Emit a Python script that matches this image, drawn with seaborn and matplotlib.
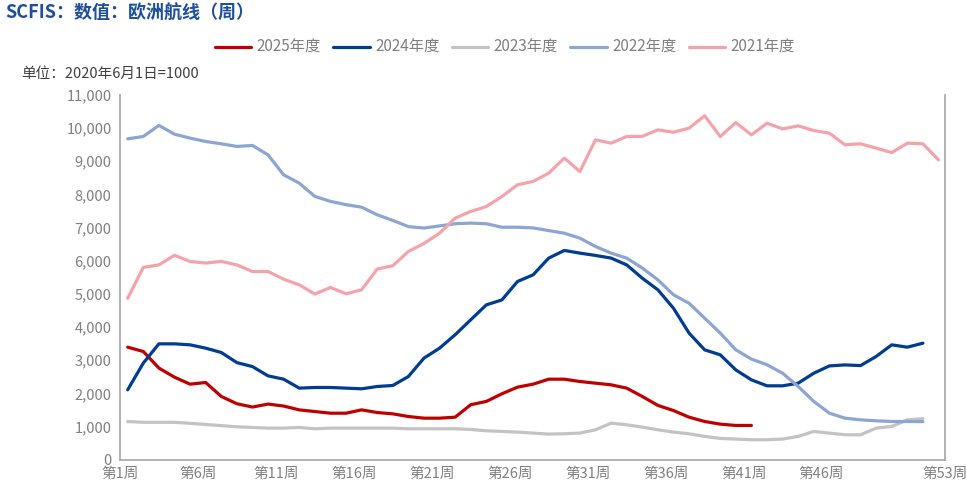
import pandas as pd
import matplotlib.pyplot as plt
import seaborn as sns

# weekly index values (2020-06-01 = 1000)
years = ['2025年度', '2024年度', '2023年度', '2022年度', '2021年度']
colors = ['#C00000', '#003C8F', '#C3C3C3', '#8CA5D2', '#F5A3AB']

y2025 = [3395, 3265, 2765, 2490, 2280, 2330, 1910, 1690, 1590, 1680,
         1620, 1505, 1455, 1405, 1405, 1505, 1425, 1385, 1305, 1255,
         1255, 1285, 1660, 1760, 1990, 2190, 2280, 2430, 2430, 2360,
         2310, 2260, 2160, 1910, 1640, 1485, 1285, 1155, 1075, 1035, 1035]
y2024 = [2110, 2915, 3495, 3495, 3465, 3365, 3235, 2930, 2810, 2530,
         2430, 2160, 2180, 2180, 2160, 2140, 2210, 2240, 2510, 3065,
         3365, 3770, 4220, 4670, 4820, 5375, 5575, 6080, 6310, 6230,
         6160, 6080, 5875, 5475, 5125, 4570, 3820, 3315, 3165, 2710,
         2410, 2230, 2230, 2310, 2610, 2830, 2860, 2840, 3115, 3465,
         3395, 3515]
y2023 = [1155, 1130, 1130, 1130, 1100, 1065, 1030, 995, 975, 955,
         955, 975, 935, 955, 955, 955, 955, 955, 935, 935,
         935, 935, 915, 875, 855, 835, 805, 775, 785, 805,
         905, 1105, 1055, 985, 905, 835, 785, 705, 645, 625,
         605, 605, 625, 705, 855, 805, 755, 755, 955, 1005,
         1205, 1240]
y2022 = [9675, 9745, 10080, 9815, 9695, 9595, 9525, 9445, 9475, 9190,
         8590, 8340, 7940, 7790, 7690, 7615, 7385, 7215, 7030, 6985,
         7050, 7115, 7135, 7115, 7010, 7010, 6990, 6910, 6830, 6680,
         6430, 6230, 6080, 5780, 5425, 4975, 4720, 4270, 3820, 3315,
         3035, 2865, 2610, 2210, 1760, 1405, 1255, 1205, 1175, 1155,
         1155, 1150]
y2021 = [4870, 5800, 5875, 6165, 5980, 5930, 5980, 5875, 5675, 5675,
         5445, 5275, 4995, 5195, 5005, 5125, 5750, 5850, 6280, 6520,
         6830, 7285, 7485, 7635, 7935, 8290, 8390, 8640, 9095, 8690,
         9645, 9545, 9745, 9750, 9945, 9875, 9995, 10370, 9745, 10165,
         9795, 10145, 9975, 10065, 9925, 9845, 9495, 9525, 9395, 9260,
         9545, 9525, 9040]

tick_pos = [0.5, 5.5, 10.5, 15.5, 20.5, 25.5, 30.5, 35.5, 40.5, 45.5, 50.5, 53.4]
tick_labels = ['第1周', '第6周', '第11周', '第16周', '第21周', '第26周',
               '第31周', '第36周', '第41周', '第46周', '', '第53周']
y_ticks = list(range(0, 11001, 1000))

rows = []
for name, vals in zip(years, [y2025, y2024, y2023, y2022, y2021]):
    for i, v in enumerate(vals):
        rows.append({'week': i + 1, 'value': v, 'year': name})
df = pd.DataFrame(rows)

sns.set_style('white')
plt.rcParams['font.family'] = ['Noto Sans CJK SC', 'DejaVu Sans']

fig = plt.figure(figsize=(9.67, 4.84), dpi=100)
ax = fig.add_axes([0.124, 0.05, 0.853, 0.754])

sns.lineplot(data=df, x='week', y='value', hue='year', hue_order=years,
             palette=colors, linewidth=2.3, ax=ax)

ax.set_xlim(0.5, 53.4)
ax.set_ylim(0, 11000)
ax.set_xticks(tick_pos)
ax.set_xticklabels(tick_labels)
ax.set_yticks(y_ticks)
ax.set_yticklabels([f'{v:,}' for v in y_ticks])
ax.set_xlabel('')
ax.set_ylabel('')
ax.tick_params(axis='both', colors='#808080', labelsize=10.5, length=4,
               direction='out', width=1)
ax.tick_params(axis='x', pad=1)
ax.tick_params(axis='y', pad=2)
for side in ['left', 'bottom', 'right']:
    ax.spines[side].set_visible(True)
    ax.spines[side].set_color('#A6A6A6')
    ax.spines[side].set_linewidth(1.2)
ax.spines['top'].set_visible(False)

# legend across the top
sns.move_legend(ax, 'center', bbox_to_anchor=(0.522, 0.902),
                bbox_transform=fig.transFigure, ncol=5, title=None,
                frameon=False, fontsize=11, handlelength=2.4,
                columnspacing=0.8, handletextpad=0.35)
for t in ax.get_legend().get_texts():
    t.set_color('#808080')

fig.text(0.005, 0.972, 'SCFIS：数值：欧洲航线（周）', fontsize=13,
         fontweight='bold', color='#1F4E9A', va='center', ha='left')
fig.text(0.022, 0.848, '单位：2020年6月1日=1000', fontsize=10.5,
         color='#404040', va='center', ha='left')

fig.savefig('out.png', dpi=100)
